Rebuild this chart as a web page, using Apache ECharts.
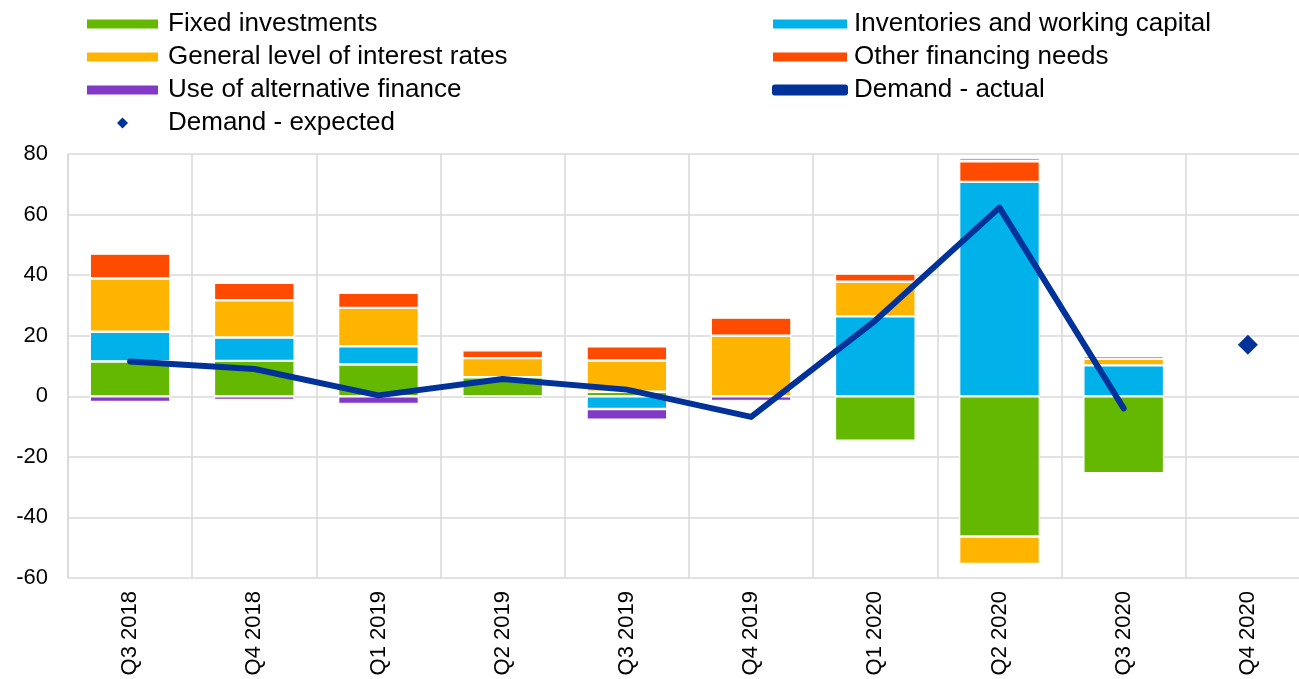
<!DOCTYPE html>
<html>
<head>
<meta charset="utf-8">
<script src="https://cdn.jsdelivr.net/npm/echarts@6/dist/echarts.min.js"></script>
<style>
html,body{margin:0;padding:0;background:#fff;}
#chart{width:1299px;height:679px;}
</style>
</head>
<body>
<div id="chart"></div>
<script>
const categories = ['Q3 2018','Q4 2018','Q1 2019','Q2 2019','Q3 2019','Q4 2019','Q1 2020','Q2 2020','Q3 2020','Q4 2020'];
const fixedInvestments = [11.5, 11.7, 10.5, 6.3, 1.5, null, -14.7, -46.3, -25.4, null];
const inventories = [9.8, 7.7, 6.0, -1.0, -4.2, null, 26.4, 70.8, 10.2, null];
const interestRates = [17.6, 12.3, 12.7, 6.3, 10.3, 20.0, 11.4, -9.1, 2.2, null];
const otherFinancing = [8.2, 5.8, 5.0, 2.6, 4.7, 6.0, 2.7, 6.8, null, null];
const alternativeFinance = [-1.9, -1.2, -2.5, null, -3.5, -1.5, null, 1.0, 1.0, null];
const demandActual = [11.5, 9.0, 0.3, 5.7, 2.2, -6.8, 25.0, 62.3, -4.0, null];
const demandExpected = [null, null, null, null, null, null, null, null, null, 17.0];
const yTicks = {min: -60, max: 80, interval: 20};

const FONT = '"Liberation Sans", Arial, sans-serif';
const C = {green:'#65b800', blue:'#00b1ea', yellow:'#ffb400', red:'#ff4b00', purple:'#8139c6', navy:'#003299'};
const DIAMOND = 'path://M0,-1L1,0L0,1L-1,0Z';

function barSeries(name, data, color) {
  return {
    name: name, type: 'bar', stack: 'total', data: data,
    barWidth: '65%',
    itemStyle: {color: color, borderColor: '#ffffff', borderWidth: 1.2},
    emphasis: {disabled: true}
  };
}

const chart = echarts.init(document.getElementById('chart'), null, {renderer: 'canvas'});
chart.setOption({
  animation: false,
  textStyle: {fontFamily: FONT, color: '#000'},
  legend: [
    {
      orient: 'vertical', left: 80, top: 6, itemWidth: 73, itemHeight: 11, itemGap: 7,
      symbolKeepAspect: true,
      textStyle: {fontSize: 26, color: '#000', fontFamily: FONT, padding: [0,0,0,4]},
      data: [
        {name: 'Fixed investments', icon: 'rect'},
        {name: 'General level of interest rates', icon: 'rect'},
        {name: 'Use of alternative finance', icon: 'rect'},
        {name: 'Demand - expected', icon: DIAMOND}
      ]
    },
    {
      orient: 'vertical', left: 766, top: 6, itemWidth: 76, itemHeight: 11, itemGap: 7,
      textStyle: {fontSize: 26, color: '#000', fontFamily: FONT, padding: [0,0,0,1]},
      data: [
        {name: 'Inventories and working capital', icon: 'rect'},
        {name: 'Other financing needs', icon: 'rect'},
        {name: 'Demand - actual', icon: 'roundRect'}
      ]
    }
  ],
  grid: {left: 68, top: 154, bottom: 101, width: 1242, containLabel: false, outerBoundsMode: 'none'},
  xAxis: {
    type: 'category', data: categories, boundaryGap: true,
    axisLine: {show: false}, axisTick: {show: false},
    axisLabel: {rotate: 90, fontSize: 22, color: '#000', fontFamily: FONT, margin: 13, interval: 0},
    splitLine: {show: true, interval: 0, lineStyle: {color: '#d9d9d9', width: 1.5}}
  },
  yAxis: {
    type: 'value', min: yTicks.min, max: yTicks.max, interval: yTicks.interval,
    axisLine: {show: true, lineStyle: {color: '#d9d9d9', width: 1.5}}, axisTick: {show: false},
    axisLabel: {fontSize: 22, color: '#000', fontFamily: FONT, margin: 20},
    splitLine: {show: true, lineStyle: {color: '#d9d9d9', width: 1.5}}
  },
  series: [
    barSeries('Fixed investments', fixedInvestments, C.green),
    barSeries('Inventories and working capital', inventories, C.blue),
    barSeries('General level of interest rates', interestRates, C.yellow),
    barSeries('Other financing needs', otherFinancing, C.red),
    barSeries('Use of alternative finance', alternativeFinance, C.purple),
    {
      name: 'Demand - actual', type: 'line', data: demandActual,
      showSymbol: false, symbol: 'none', connectNulls: false,
      lineStyle: {color: C.navy, width: 6, cap: 'round', join: 'round'},
      itemStyle: {color: C.navy},
      emphasis: {disabled: true}, z: 5
    },
    {
      name: 'Demand - expected', type: 'scatter', data: demandExpected,
      symbol: 'diamond', symbolSize: 20,
      itemStyle: {color: C.navy, opacity: 1},
      emphasis: {disabled: true}, z: 6
    }
  ]
});
</script>
</body>
</html>
